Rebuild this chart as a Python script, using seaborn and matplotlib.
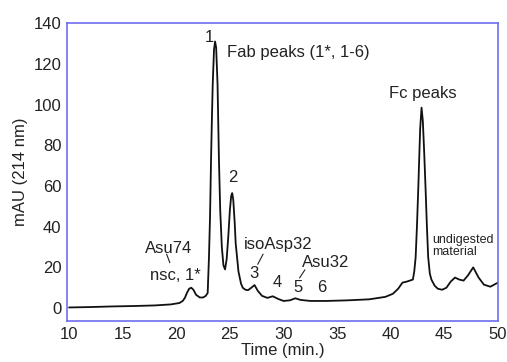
import numpy as np
import pandas as pd
import matplotlib
matplotlib.use("Agg")
import matplotlib.pyplot as plt
import seaborn as sns

# chromatogram trace
time_min = [10, 12, 14, 16, 18, 19.5, 20.3, 20.6, 20.8, 21.0, 21.2, 21.4, 21.6, 21.85,
            22.2, 22.5, 22.75, 22.93, 23.05, 23.15, 23.24, 23.32, 23.4, 23.52, 23.62,
            23.72, 23.85, 23.98, 24.1, 24.25, 24.4, 24.55, 24.7, 24.85, 25.0, 25.12,
            25.22, 25.32, 25.45, 25.54, 25.8, 26.04, 26.2, 26.45, 26.7, 27.0, 27.3,
            27.6, 28.0, 28.5, 29.0, 29.5, 30.0, 30.6, 31.1, 31.6, 32.5, 34, 36, 38, 39.5,
            40.2, 40.7, 41.1, 41.5, 42.07, 42.2, 42.33, 42.45, 42.57, 42.75, 42.88, 43.0,
            43.13, 43.26, 43.38, 43.5, 43.65, 43.8, 44.1, 44.4, 44.8, 45.2, 45.6, 46.0,
            46.4, 46.8, 47.2, 47.7, 48.2, 48.7, 49.3, 50.0]
mau = [0.3, 0.5, 0.8, 1.0, 1.3, 1.8, 2.5, 3.5, 5, 7.5, 9.5, 10, 9, 6.5,
       5.2, 5.2, 6, 7.4, 25, 45, 72, 92, 110, 127, 131,
       128, 110, 73, 48, 30, 21, 19, 24, 35, 48, 55,
       56.5, 53, 42, 32, 18, 12, 10, 9, 8.8, 10, 11.3,
       8.5, 6, 5, 5.8, 4.5, 3.5, 3.8, 4.8, 4, 3.5, 3.5, 3.8, 4.3, 5.5,
       7, 9.5, 12.5, 13, 14, 18, 25, 40, 58, 88, 98.5, 92,
       76, 58, 40, 25, 17, 14, 11, 9.5, 9, 10, 13, 15,
       14, 13.5, 16, 20, 15, 11.5, 10.5, 12.5]

x_ticks = [10, 15, 20, 25, 30, 35, 40, 45, 50]
y_ticks = [0, 20, 40, 60, 80, 100, 120, 140]

# peak labels: (text, x, y)
peak_labels = [("1", 23.1, 133), ("2", 25.3, 64), ("3", 27.2, 17), ("4", 29.4, 12.8),
               ("5", 31.35, 10.3), ("6", 33.6, 10.3)]

sns.set_theme(style="white")
plt.rcParams["font.family"] = ["Liberation Sans", "DejaVu Sans"]

df = pd.DataFrame({"time": time_min, "mau": mau})

fig = plt.figure(figsize=(5.07, 3.62), dpi=100)
ax = fig.add_axes([0.132, 0.113, 0.850, 0.823])
sns.lineplot(data=df, x="time", y="mau", color="#111111", linewidth=1.3, ax=ax)

ax.set_xlim(9.8, 50)
ax.set_ylim(-6.4, 140)
ax.set_xticks(x_ticks)
ax.set_yticks(y_ticks)
ax.tick_params(labelsize=12, colors="#222222", length=0, pad=4)
for s in ax.spines.values():
    s.set_color("#6e6ef0")
    s.set_linewidth(1.2)

ax.set_xlabel("Time (min.)", fontsize=12, color="#222222", labelpad=1)
ax.set_ylabel("mAU (214 nm)", fontsize=12, color="#222222", labelpad=4)

tc = "#222222"
for txt, x, y in peak_labels:
    ax.text(x, y, txt, fontsize=12, color=tc, ha="center", va="center")

ax.text(24.7, 125.5, "Fab peaks (1*, 1-6)", fontsize=12, color=tc, ha="left", va="center")
ax.text(43.0, 105.5, "Fc peaks", fontsize=12, color=tc, ha="center", va="center")
ax.text(19.3, 29.5, "Asu74", fontsize=12, color=tc, ha="center", va="center")
ax.text(19.9, 16.2, "nsc, 1*", fontsize=12, color=tc, ha="center", va="center")
ax.text(29.5, 31, "isoAsp32", fontsize=12, color=tc, ha="center", va="center")
ax.text(33.9, 22.6, "Asu32", fontsize=12, color=tc, ha="center", va="center")
ax.text(43.85, 33.4, "undigested", fontsize=9, color=tc, ha="left", va="center")
ax.text(43.85, 27.5, "material", fontsize=9, color=tc, ha="left", va="center")

# little leader strokes
ax.plot([19.1, 19.4], [26.5, 22.3], color=tc, lw=0.8)
ax.plot([27.6, 28.1], [21.5, 26.5], color=tc, lw=0.8)
ax.plot([31.5, 32.0], [14.8, 18.8], color=tc, lw=0.8)

fig.savefig("out.png", dpi=100)
